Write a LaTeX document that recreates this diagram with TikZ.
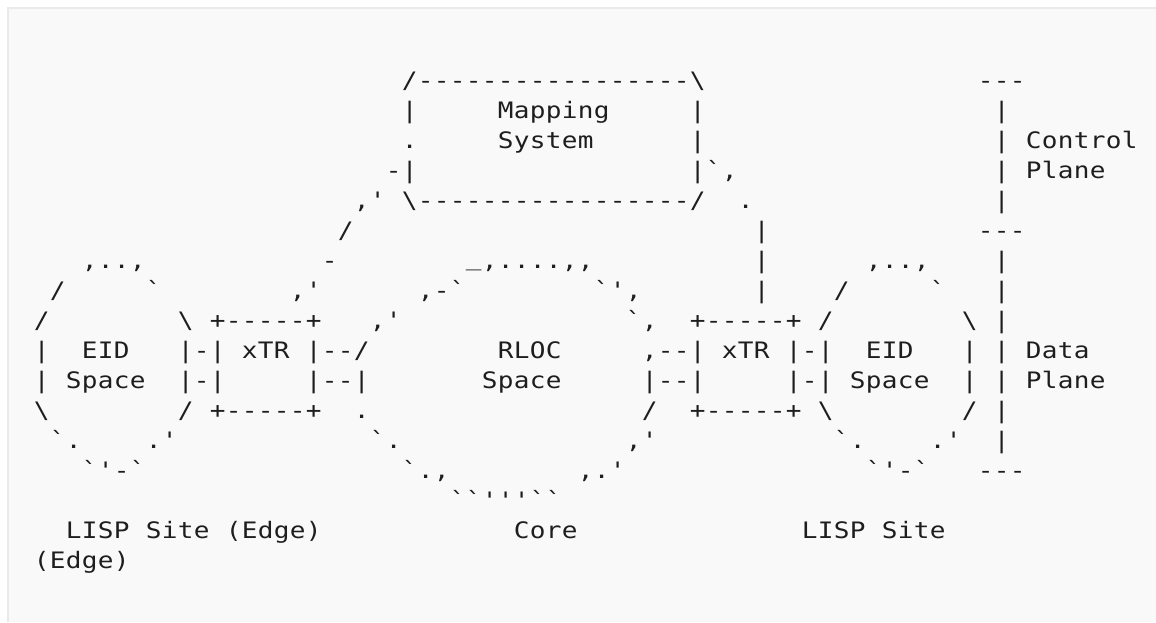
\documentclass[tikz,border=0pt]{standalone}
\usepackage{fontspec}
\setmonofont{DejaVu Sans Mono}[FakeStretch=1.15]
\ExplSyntaxOn
\cs_new_protected:Npn \artch_char:n #1
  {
    \str_case:nnF {#1}
      {
        {@} { \hbox_to_wd:nn {12pt} { \hfil } }
        {!} { \hbox_to_wd:nn {12pt} { \hfil \textbackslash \hfil } }
        {_} { \hbox_to_wd:nn {12pt} { \hfil \raisebox{2.25pt}{#1} \hfil } }
      }
      { \hbox_to_wd:nn {12pt} { \hfil #1 \hfil } }
  }
\NewDocumentCommand \arttext { m }
  { \str_map_inline:nn {#1} { \artch_char:n {##1} } }
\ExplSyntaxOff
\definecolor{inkc}{HTML}{1E1E1E}
\definecolor{bgc}{HTML}{F9F9F9}
\definecolor{bordc}{HTML}{EAEAEA}
\newcommand\artrow[4]{\node[art] (#1) at ({33.7+16*#3},{88.5+30*#2}) {\arttext{#4}};}
\begin{document}
\begin{tikzpicture}[x=0.75pt,y=-0.75pt,
  art/.style={anchor=base west,inner sep=0pt,outer sep=0pt,text=inkc,
    font=\ttfamily\fontsize{17}{20}\selectfont}]
\useasboundingbox (0,0) rectangle (1156,622);
\fill[white] (0,0) rectangle (1156,622);
\fill[bgc] (7,7) rectangle (1156,622);
\draw[bordc,line width=1.5] (7.75,622) -- (7.75,7.75) -- (1156,7.75);
% row 0
\artrow{r0a}{0}{23}{/-----------------!}
\artrow{r0b}{0}{59}{---}
% row 1
\artrow{r1a}{1}{23}{|}
\artrow{r1b}{1}{29}{Mapping}
\artrow{r1c}{1}{41}{|}
\artrow{r1d}{1}{60}{|}
% row 2
\artrow{r2a}{2}{23}{.}
\artrow{r2b}{2}{29}{System}
\artrow{r2c}{2}{41}{|}
\artrow{r2d}{2}{60}{|}
\artrow{r2e}{2}{62}{Control}
% row 3
\artrow{r3a}{3}{22}{-|}
\artrow{r3b}{3}{41}{|`,}
\artrow{r3c}{3}{60}{|}
\artrow{r3d}{3}{62}{Plane}
% row 4
\artrow{r4a}{4}{20}{,'}
\artrow{r4b}{4}{23}{!-----------------/}
\artrow{r4c}{4}{44}{.}
\artrow{r4d}{4}{60}{|}
% row 5
\artrow{r5a}{5}{19}{/}
\artrow{r5b}{5}{45}{|}
\artrow{r5c}{5}{59}{---}
% row 6
\artrow{r6a}{6}{3}{,..,}
\artrow{r6b}{6}{18}{-}
\artrow{r6c}{6}{27}{_,....,,}
\artrow{r6d}{6}{45}{|}
\artrow{r6e}{6}{52}{,..,}
\artrow{r6f}{6}{60}{|}
% row 7
\artrow{r7a}{7}{1}{/}
\artrow{r7b}{7}{7}{`}
\artrow{r7c}{7}{16}{,'}
\artrow{r7d}{7}{24}{,-`}
\artrow{r7e}{7}{35}{`',}
\artrow{r7f}{7}{45}{|}
\artrow{r7g}{7}{50}{/}
\artrow{r7h}{7}{56}{`}
\artrow{r7i}{7}{60}{|}
% row 8
\artrow{r8a}{8}{0}{/}
\artrow{r8b}{8}{9}{!@+-----+}
\artrow{r8c}{8}{21}{,'}
\artrow{r8d}{8}{37}{`,}
\artrow{r8e}{8}{41}{+-----+@/}
\artrow{r8f}{8}{58}{!@|}
% row 9
\artrow{r9a}{9}{0}{|@@EID@@@|-|@xTR@|--/}
\artrow{r9b}{9}{29}{RLOC}
\artrow{r9c}{9}{38}{,--|@xTR@|-|@@EID@@@|@|@Data}
% row 10
\artrow{r10a}{10}{0}{|@Space@@|-|@@@@@|--|}
\artrow{r10b}{10}{28}{Space}
\artrow{r10c}{10}{38}{|--|@@@@@|-|@Space@@|@|@Plane}
% row 11
\artrow{r11a}{11}{0}{!@@@@@@@@/@+-----+@@.}
\artrow{r11b}{11}{38}{/@@+-----+@!@@@@@@@@/@|}
% row 12
\artrow{r12a}{12}{1}{`.@@@@.'}
\artrow{r12b}{12}{21}{`.}
\artrow{r12c}{12}{37}{,'}
\artrow{r12d}{12}{50}{`.@@@@.'}
\artrow{r12e}{12}{60}{|}
% row 13
\artrow{r13a}{13}{3}{`'-`}
\artrow{r13b}{13}{23}{`.,}
\artrow{r13c}{13}{34}{,.'}
\artrow{r13d}{13}{52}{`'-`}
\artrow{r13e}{13}{59}{---}
% row 14
\artrow{r14a}{14}{26}{``'''``}
% row 15
\artrow{r15a}{15}{2}{LISP Site (Edge)}
\artrow{r15b}{15}{30}{Core}
\artrow{r15c}{15}{48}{LISP Site}
% row 16
\artrow{r16a}{16}{0}{(Edge)}
\end{tikzpicture}
\end{document}
